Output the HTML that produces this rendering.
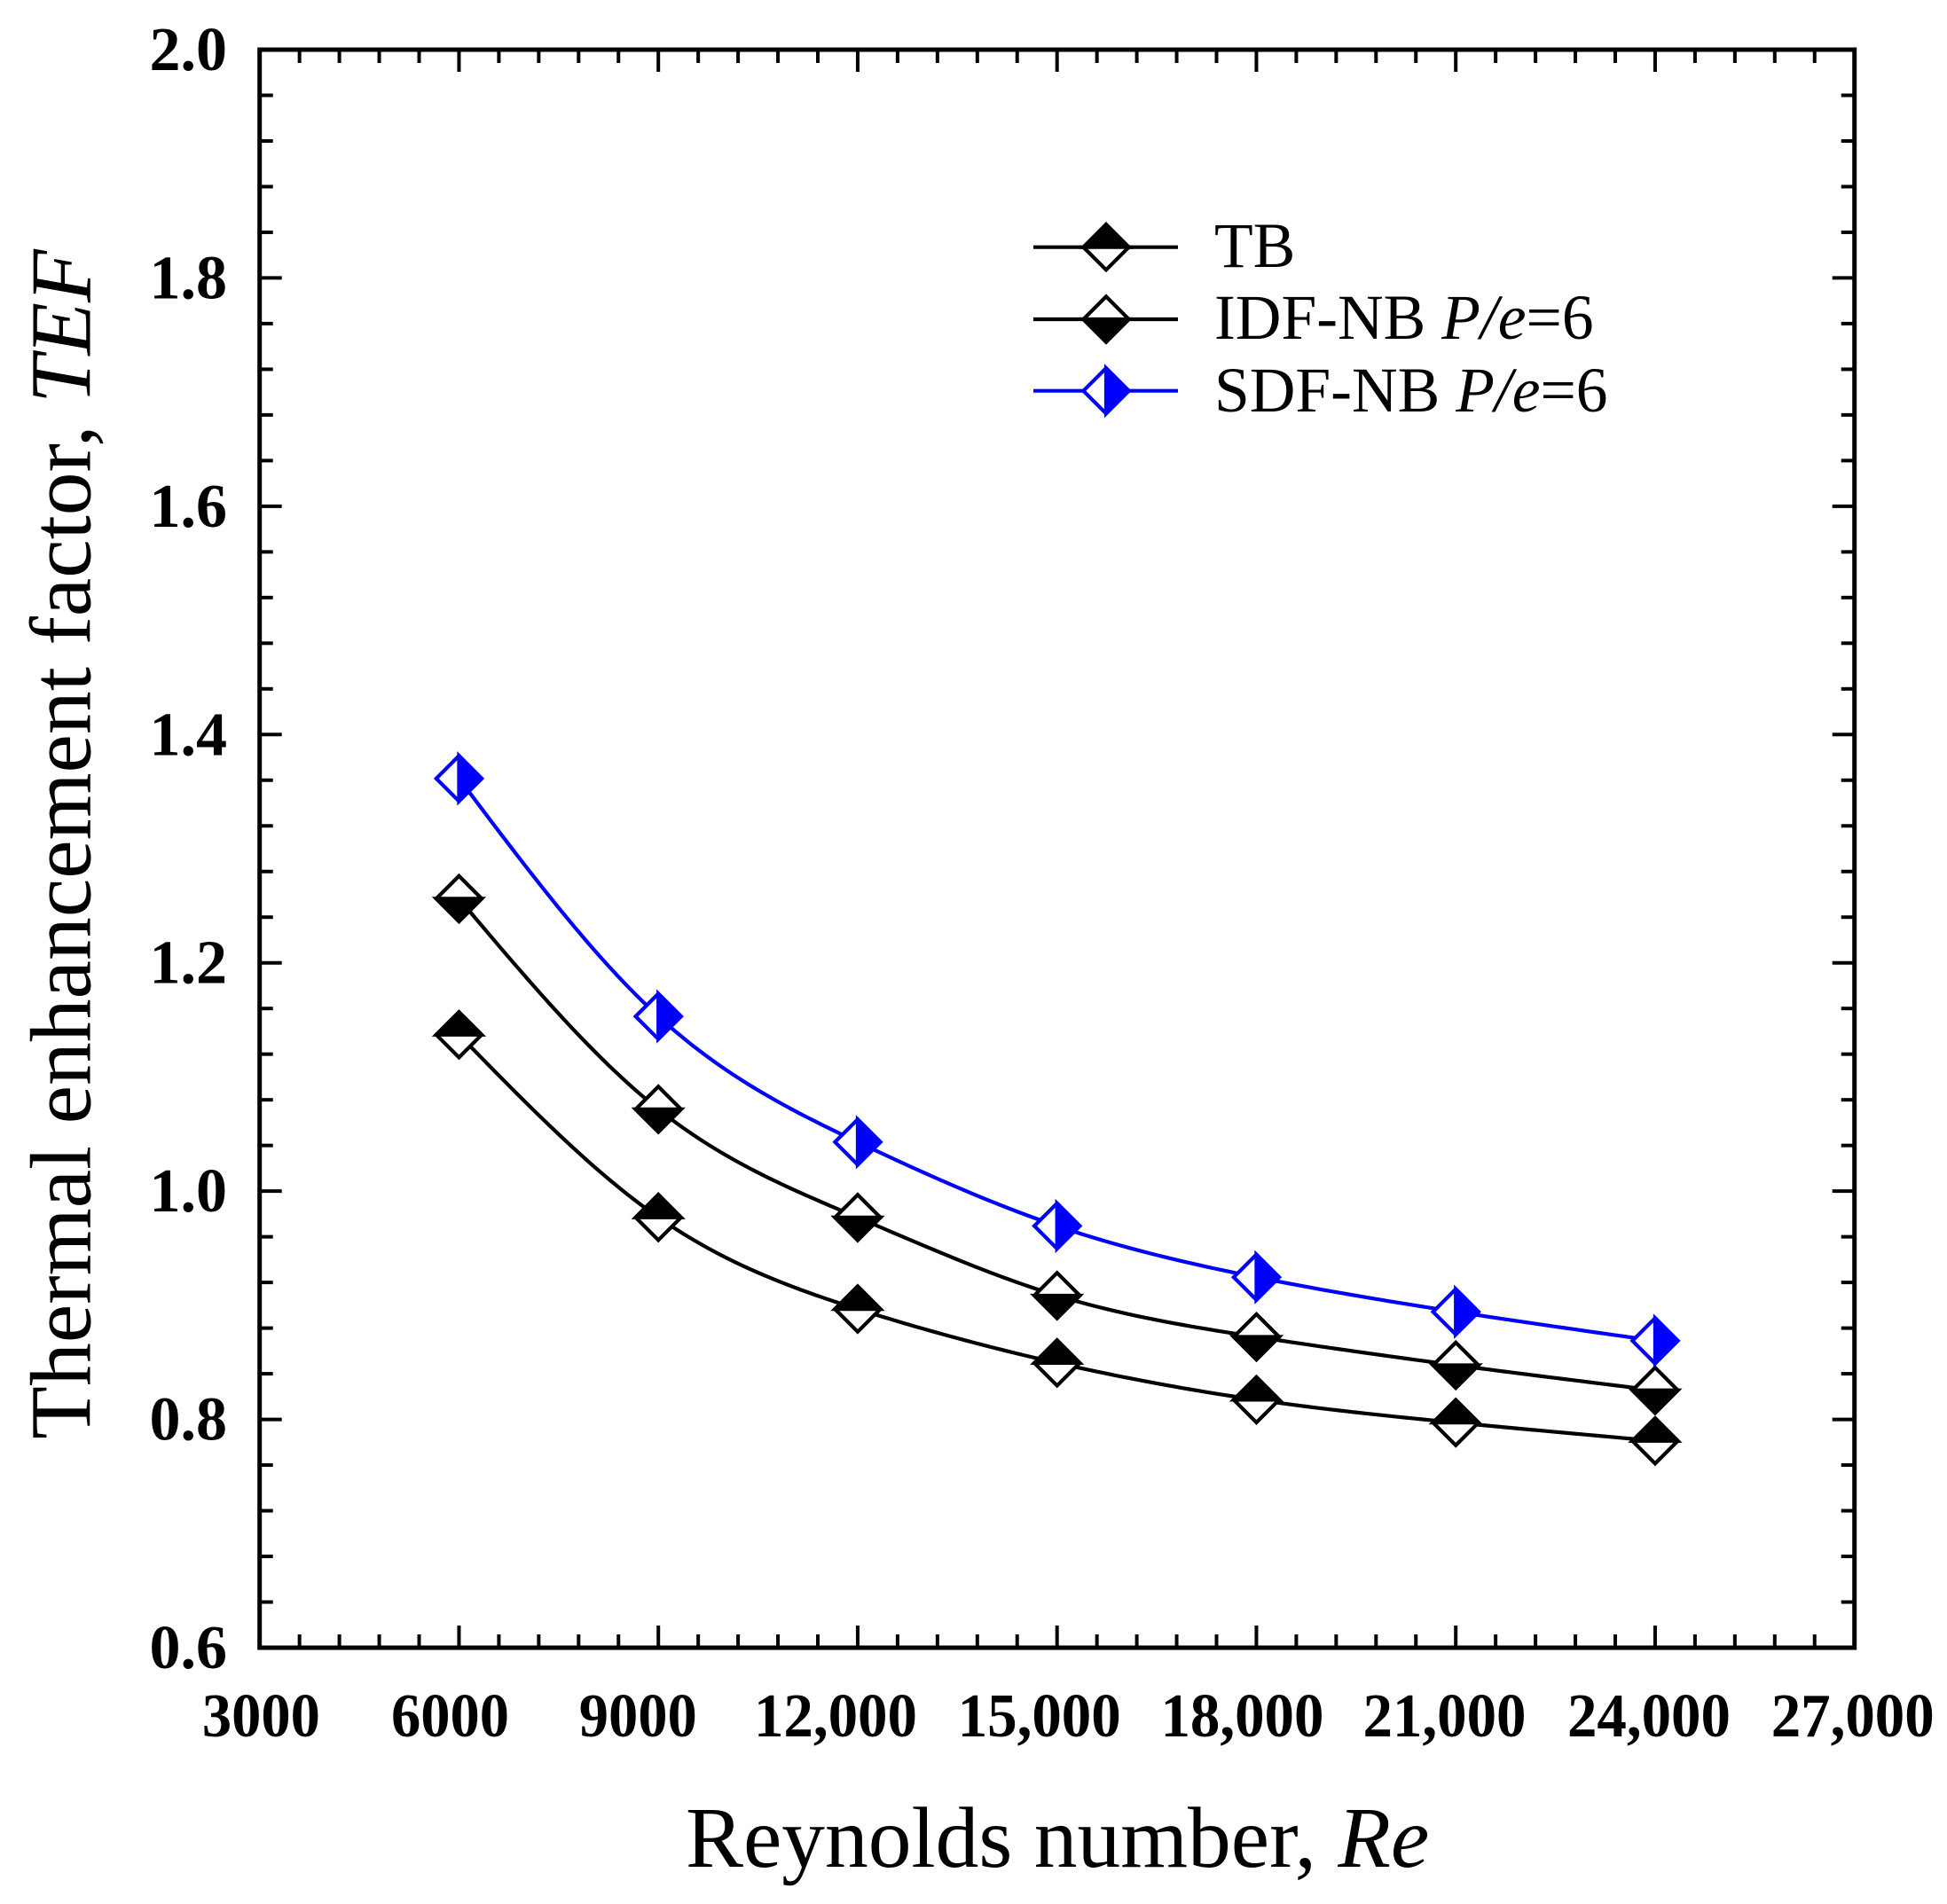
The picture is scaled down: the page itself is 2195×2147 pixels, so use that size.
<!DOCTYPE html>
<html lang="en">
<head>
<meta charset="utf-8">
<title>Thermal enhancement factor vs Reynolds number</title>
<style>
  html, body { margin: 0; padding: 0; background: #fff; }
  svg { display: block; }
  text { font-family: "Liberation Serif", "Times New Roman", serif; fill: #000; }
  .tick-label { font-size: 70px; font-weight: bold; }
  .axis-title { font-size: 97.5px; }
  .y-title { font-size: 97.7px; }
  .legend-text { font-size: 71.5px; }
</style>
</head>
<body>
<svg id="chart" xmlns="http://www.w3.org/2000/svg" width="2195" height="2147" viewBox="0 0 2195 2147">
  <rect x="0" y="0" width="2195" height="2147" fill="#fff"/>
  <g id="ticks"></g>
  <g id="labels"></g>
  <g id="series"></g>
  <rect id="frame" fill="none" stroke="#000" stroke-width="5"/>
  <text class="axis-title" x="773" y="2105">Reynolds number, <tspan font-style="italic">Re</tspan></text>
  <text class="y-title" transform="translate(101.5,1622.7) rotate(-90)" x="0" y="0">Thermal enhancement factor, <tspan font-style="italic">TEF</tspan></text>
  <g id="legend">
    <text class="legend-text" x="1369" y="301">TB</text>
    <text class="legend-text" x="1369" y="382">IDF-NB <tspan font-style="italic">P/e</tspan>=6</text>
    <text class="legend-text" x="1369" y="464">SDF-NB <tspan font-style="italic">P/e</tspan>=6</text>
  </g>
</svg>
<script>
// ---- data ----
const reynolds = [6000, 9000, 12000, 15000, 18000, 21000, 24000];
const tbValues = [1.137, 0.977, 0.8967, 0.8495, 0.8172, 0.7972, 0.7812];
const idfValues = [1.2562, 1.0717, 0.9769, 0.9085, 0.8723, 0.8475, 0.8255];
const sdfValues = [1.3615, 1.1531, 1.043, 0.9695, 0.9246, 0.8943, 0.8689];
const xTickValues = [3000, 6000, 9000, 12000, 15000, 18000, 21000, 24000, 27000];
const xTickLabels = ["3000", "6000", "9000", "12,000", "15,000", "18,000", "21,000", "24,000", "27,000"];
const yTickValues = [0.6, 0.8, 1.0, 1.2, 1.4, 1.6, 1.8, 2.0];
const yTickLabels = ["0.6", "0.8", "1.0", "1.2", "1.4", "1.6", "1.8", "2.0"];

// ---- layout ----
const NS = "http://www.w3.org/2000/svg";
const plot = { left: 292.7, right: 2090.7, top: 56, bottom: 1858 };
const xDomain = [3000, 27000];
const yDomain = [0.6, 2.0];
const xMinorStep = 600;
const yMinorStep = 0.04;
const xLabelShift = [1.7, -10, -23, -25, -20, -16, -12.7, -7, -2];
function xScale(v) { return plot.left + (v - xDomain[0]) / (xDomain[1] - xDomain[0]) * (plot.right - plot.left); }
function yScale(v) { return plot.bottom - (v - yDomain[0]) / (yDomain[1] - yDomain[0]) * (plot.bottom - plot.top); }

function make(tag, parent) {
  const node = document.createElementNS(NS, tag);
  parent.appendChild(node);
  return node;
}
function setLine(node, x1, y1, x2, y2, color, width) {
  node.setAttribute('x1', x1);
  node.setAttribute('y1', y1);
  node.setAttribute('x2', x2);
  node.setAttribute('y2', y2);
  node.setAttribute('stroke', color);
  node.setAttribute('stroke-width', width);
}

const frame = document.getElementById('frame');
frame.setAttribute('x', plot.left);
frame.setAttribute('y', plot.top);
frame.setAttribute('width', plot.right - plot.left);
frame.setAttribute('height', plot.bottom - plot.top);

// ---- ticks ----
const tickWidth = 4;
const ticksGroup = document.getElementById('ticks');
const xStepCount = Math.round((xDomain[1] - xDomain[0]) / xMinorStep);
for (let i = 1; i < xStepCount; i++) {
  const x = xScale(xDomain[0] + i * xMinorStep);
  const len = i % 5 === 0 ? 25 : 15;
  const bottomTick = make('line', ticksGroup);
  
  
  setLine(bottomTick, x, plot.bottom, x, plot.bottom - len, '#000', tickWidth);
  const topTick = make('line', ticksGroup);
  
  
  setLine(topTick, x, plot.top, x, plot.top + len, '#000', tickWidth);
}
const yStepCount = Math.round((yDomain[1] - yDomain[0]) / yMinorStep);
for (let i = 1; i < yStepCount; i++) {
  const y = yScale(yDomain[0] + i * yMinorStep);
  const len = i % 5 === 0 ? 25 : 15;
  const leftTick = make('line', ticksGroup);
  
  
  setLine(leftTick, plot.left, y, plot.left + len, y, '#000', tickWidth);
  const rightTick = make('line', ticksGroup);
  
  
  setLine(rightTick, plot.right, y, plot.right - len, y, '#000', tickWidth);
}

// ---- tick labels ----
const labelsGroup = document.getElementById('labels');
xTickValues.forEach(function (v, i) {
  const t = make('text', labelsGroup);
  
  
  t.setAttribute('class', 'tick-label');
  t.setAttribute('text-anchor', 'middle');
  t.setAttribute('x', xScale(v) + xLabelShift[i]);
  t.setAttribute('y', plot.bottom + 100);
  t.setAttribute('lengthAdjust', 'spacingAndGlyphs');
  t.setAttribute('textLength', xTickLabels[i].length > 4 ? 184 : 133);
  t.textContent = xTickLabels[i];
});
yTickValues.forEach(function (v, i) {
  const t = make('text', labelsGroup);
  
  
  t.setAttribute('class', 'tick-label');
  t.setAttribute('text-anchor', 'end');
  t.setAttribute('x', 256);
  t.setAttribute('y', yScale(v) + 23);
  t.textContent = yTickLabels[i];
});

// ---- natural cubic spline through the data ----
function splinePath(xs, ys) {
  const n = xs.length;
  const h = [], alpha = [0], l = [1], mu = [0], z = [0], c = new Array(n).fill(0), b = [], d = [];
  for (let i = 0; i < n - 1; i++) h.push(xs[i + 1] - xs[i]);
  for (let i = 1; i < n - 1; i++) {
    alpha.push(3 / h[i] * (ys[i + 1] - ys[i]) - 3 / h[i - 1] * (ys[i] - ys[i - 1]));
    l.push(2 * (xs[i + 1] - xs[i - 1]) - h[i - 1] * mu[i - 1]);
    mu.push(h[i] / l[i]);
    z.push((alpha[i] - h[i - 1] * z[i - 1]) / l[i]);
  }
  for (let j = n - 2; j >= 0; j--) {
    c[j] = z[j] - mu[j] * c[j + 1];
    b[j] = (ys[j + 1] - ys[j]) / h[j] - h[j] * (c[j + 1] + 2 * c[j]) / 3;
    d[j] = (c[j + 1] - c[j]) / (3 * h[j]);
  }
  let path = 'M' + xs[0].toFixed(2) + ' ' + ys[0].toFixed(2);
  for (let j = 0; j < n - 1; j++) {
    for (let k = 1; k <= 24; k++) {
      const dx = h[j] * k / 24;
      const y = ys[j] + b[j] * dx + c[j] * dx * dx + d[j] * dx * dx * dx;
      path += 'L' + (xs[j] + dx).toFixed(2) + ' ' + y.toFixed(2);
    }
  }
  return path;
}

// ---- half-filled diamond marker ----
const markerR = 25.6;
const markerStroke = 4.2;
function polygonPoints(list) {
  return list.map(function (p) { return p[0].toFixed(2) + ',' + p[1].toFixed(2); }).join(' ');
}
function drawMarker(marker, cx, cy, color, half) {
  const r = markerR;
  const top = [cx, cy - r], right = [cx + r, cy], bottom = [cx, cy + r], left = [cx - r, cy];
  const base = make('polygon', marker);
  base.setAttribute('points', polygonPoints([top, right, bottom, left]));
  base.setAttribute('fill', '#fff');
  base.setAttribute('stroke', color);
  base.setAttribute('stroke-width', markerStroke);
  const fillPts = half === 'top' ? [left, top, right] : half === 'bottom' ? [left, bottom, right] : [top, right, bottom];
  const filled = make('polygon', marker);
  filled.setAttribute('points', polygonPoints(fillPts));
  filled.setAttribute('fill', color);
  filled.setAttribute('stroke', color);
  filled.setAttribute('stroke-width', markerStroke);
}

// ---- series ----
const lineWidth = 4.2;
const seriesGroup = document.getElementById('series');
function drawSeries(key, values, color, half) {
  const group = make('g', seriesGroup);
  
  
  const xs = reynolds.map(xScale);
  const ys = values.map(yScale);
  const curve = make('path', group);
  
  
  curve.setAttribute('d', splinePath(xs, ys));
  curve.setAttribute('fill', 'none');
  curve.setAttribute('stroke', color);
  curve.setAttribute('stroke-width', lineWidth);
  xs.forEach(function (x, i) {
    const marker = make('g', group);
    
    
    drawMarker(marker, x, ys[i], color, half);
  });
}
drawSeries('tb', tbValues, '#000', 'top');
drawSeries('idf-nb', idfValues, '#000', 'bottom');
drawSeries('sdf-nb', sdfValues, '#0000ff', 'right');

// ---- legend symbols ----
const legendGroup = document.getElementById('legend');
const legendLine = { x1: 1165, x2: 1328, cx: 1247 };
function drawLegendSymbol(key, y, color, half) {
  const symbol = make('g', legendGroup);
  
  
  const stroke = make('line', symbol);
  setLine(stroke, legendLine.x1, y, legendLine.x2, y, color, lineWidth);
  drawMarker(symbol, legendLine.cx, y, color, half);
}
drawLegendSymbol('tb', 278.7, '#000', 'top');
drawLegendSymbol('idf-nb', 360, '#000', 'bottom');
drawLegendSymbol('sdf-nb', 440.7, '#0000ff', 'right');
</script>
</body>
</html>
